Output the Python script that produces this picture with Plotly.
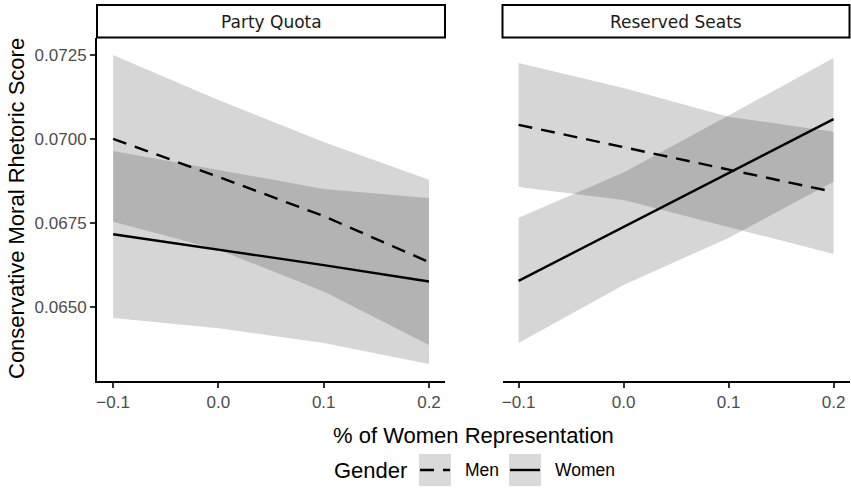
import plotly.graph_objects as go

# ---- data ----
x_vals = [-0.1, 0.0, 0.1, 0.2]
panels = ["Party Quota", "Reserved Seats"]

pq_men_fit = [0.07000, 0.06887, 0.06770, 0.06633]
pq_men_hi = [0.07250, 0.07116, 0.06991, 0.06878]
pq_men_lo = [0.06753, 0.06670, 0.06545, 0.06386]
pq_wom_fit = [0.06716, 0.06671, 0.06624, 0.06575]
pq_wom_hi = [0.06964, 0.06908, 0.06851, 0.06824]
pq_wom_lo = [0.06466, 0.06436, 0.06392, 0.06329]

rs_men_fit = [0.07042, 0.06975, 0.06909, 0.06842]
rs_men_hi = [0.07226, 0.07152, 0.07066, 0.07021]
rs_men_lo = [0.06857, 0.06818, 0.06738, 0.06657]
rs_wom_fit = [0.06577, 0.06738, 0.06898, 0.07059]
rs_wom_hi = [0.06765, 0.06900, 0.07070, 0.07241]
rs_wom_lo = [0.06392, 0.06565, 0.06705, 0.06872]

y_ticks = [0.0650, 0.0675, 0.0700, 0.0725]
x_ticks = [-0.1, 0.0, 0.1, 0.2]

# ---- styles ----
BAND = "rgba(0,0,0,0.16)"
TICK_FONT = dict(family="Liberation Sans, Arial", size=17, color="#4d4d4d")
TITLE_FONT = dict(family="Liberation Sans, Arial", size=22, color="#000000")
W, H = 851, 497

def px(x):
    return x / W

def py(y):
    return 1 - y / H

fig = go.Figure()

series = [
    ("x", "y", pq_men_fit, pq_men_hi, pq_men_lo, pq_wom_fit, pq_wom_hi, pq_wom_lo),
    ("x2", "y2", rs_men_fit, rs_men_hi, rs_men_lo, rs_wom_fit, rs_wom_hi, rs_wom_lo),
]

for xa, ya, mf, mh, ml, wf, wh, wl in series:
    for hi, lo in [(mh, ml), (wh, wl)]:
        fig.add_trace(go.Scatter(
            x=x_vals + x_vals[::-1], y=hi + lo[::-1],
            fill="toself", fillcolor=BAND, line=dict(width=0),
            mode="lines", hoverinfo="skip", showlegend=False,
            xaxis=xa, yaxis=ya))
    fig.add_trace(go.Scatter(
        x=x_vals, y=mf, mode="lines", name="Men",
        line=dict(color="black", width=2.4, dash="14px,9px"),
        showlegend=False, xaxis=xa, yaxis=ya))
    fig.add_trace(go.Scatter(
        x=x_vals, y=wf, mode="lines", name="Women",
        line=dict(color="black", width=2.4),
        showlegend=False, xaxis=xa, yaxis=ya))

x_range = [-0.1153, 0.2152]
y_range = [0.062795, 0.073007]
y_dom = [py(380.7), py(38)]
left_dom = [px(97), px(445)]
right_dom = [px(502.5), px(849.5)]

axis_common = dict(
    range=x_range, tickvals=x_ticks, tickformat=".1f",
    showline=True, linecolor="black", linewidth=2,
    ticks="outside", ticklen=5, tickwidth=1.5, tickcolor="#333333",
    showgrid=False, zeroline=False, tickfont=TICK_FONT,
)

fig.update_layout(
    width=W, height=H,
    margin=dict(l=0, r=0, t=0, b=0),
    paper_bgcolor="white", plot_bgcolor="white",
    showlegend=False,
    xaxis=dict(domain=left_dom, anchor="y", **axis_common),
    xaxis2=dict(domain=right_dom, anchor="y2", **axis_common),
    yaxis=dict(domain=y_dom, anchor="x", range=y_range, tickvals=y_ticks,
               tickformat=".4f", showline=True, linecolor="black", linewidth=2,
               ticks="outside", ticklen=5, tickwidth=1.5, tickcolor="#333333",
               showgrid=False, zeroline=False, tickfont=TICK_FONT),
    yaxis2=dict(domain=y_dom, anchor="x2", range=y_range, showline=False,
                showticklabels=False, ticks="", showgrid=False, zeroline=False),
)

shapes = []
annotations = []
# strips
for name, dom in zip(panels, [left_dom, right_dom]):
    shapes.append(dict(type="rect", xref="paper", yref="paper",
                       x0=dom[0], x1=dom[1], y0=py(37.5), y1=py(5),
                       line=dict(color="black", width=2), fillcolor="white"))
    annotations.append(dict(text=name, xref="paper", yref="paper",
                            x=(dom[0] + dom[1]) / 2, y=py(21.5),
                            xanchor="center", yanchor="middle", showarrow=False,
                            font=dict(family="DejaVu Sans, Verdana", size=17,
                                      color="#1a1a1a")))

# axis titles
annotations.append(dict(text="% of Women Representation", xref="paper", yref="paper",
                        x=px(473), y=py(435), xanchor="center", yanchor="middle",
                        showarrow=False, font=TITLE_FONT))
annotations.append(dict(text="Conservative Moral Rhetoric Score", xref="paper",
                        yref="paper", x=px(16), y=py(209), xanchor="center",
                        yanchor="middle", textangle=-90, showarrow=False,
                        font=TITLE_FONT))

# legend
leg_y = 470
annotations.append(dict(text="Gender", xref="paper", yref="paper", x=px(332),
                        y=py(leg_y), xanchor="left", yanchor="middle",
                        showarrow=False, font=TITLE_FONT))
legend_items = [("Men", "14px,9px", 419, 463), ("Women", "solid", 509, 553)]
for label, dash, kx, tx in legend_items:
    shapes.append(dict(type="rect", xref="paper", yref="paper",
                       x0=px(kx), x1=px(kx + 32), y0=py(486), y1=py(454),
                       line=dict(width=0), fillcolor="#d9d9d9", layer="below"))
    shapes.append(dict(type="line", xref="paper", yref="paper",
                       x0=px(kx + 1), x1=px(kx + 31), y0=py(leg_y), y1=py(leg_y),
                       line=dict(color="black", width=2.4, dash=dash)))
    annotations.append(dict(text=label, xref="paper", yref="paper", x=px(tx),
                            y=py(leg_y), xanchor="left", yanchor="middle",
                            showarrow=False,
                            font=dict(family="Liberation Sans, Arial", size=17.5,
                                      color="#000000")))

fig.update_layout(shapes=shapes, annotations=annotations)

fig.write_html("out.html",
               config={"displayModeBar": False},
               post_script="document.body.style.margin='0';"
                           "document.body.style.overflow='hidden';")
